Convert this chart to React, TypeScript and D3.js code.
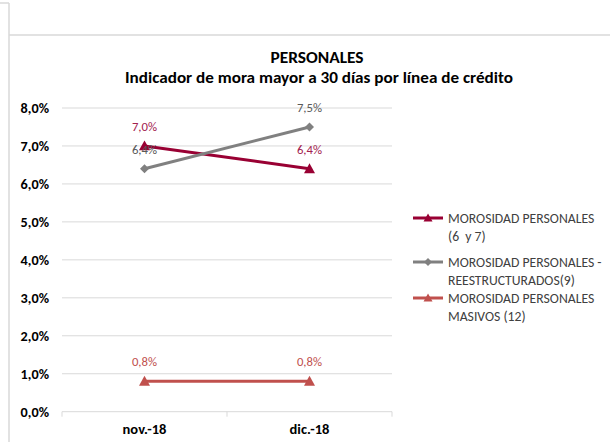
import React from "react";
import * as d3 from "d3";

const categories = ["nov.-18", "dic.-18"];
const seriesNames = [
  ["MOROSIDAD PERSONALES", "(6\u00a0 y 7)"],
  ["MOROSIDAD PERSONALES -", "REESTRUCTURADOS(9)"],
  ["MOROSIDAD PERSONALES", "MASIVOS (12)"],
];
const personales = [0.070, 0.064];
const reestructurados = [0.064, 0.075];
const masivos = [0.008, 0.008];
const yTicks = [0, 0.01, 0.02, 0.03, 0.04, 0.05, 0.06, 0.07, 0.08];
const titleLines = ["PERSONALES", "Indicador de mora mayor a 30 días por línea de crédito"];

const FONT = "Carlito, Calibri, 'Open Sans', sans-serif";

export default function App() {
  const W = 610, H = 442;
  const x = d3.scaleBand<string>().domain(categories).range([62, 392]).padding(0);
  const y = d3.scaleLinear().domain([0, 0.08]).range([411.7, 108]);
  const fmt = (v: number) => (v * 100).toFixed(1).replace(".", ",") + "%";
  const cx = (c: string) => (x(c) ?? 0) + x.bandwidth() / 2;

  const series = [
    { data: personales, color: "#990033", label: "#A3224F", marker: "tri", dy: -15 },
    { data: reestructurados, color: "#808080", label: "#595959", marker: "dia", dy: -15 },
    { data: masivos, color: "#C0504D", label: "#C0504D", marker: "tri", dy: -15 },
  ];
  const line = d3.line<number>().x((_, i) => cx(categories[i])).y((d) => y(d));
  const tri = (px: number, py: number, s = 5.5) =>
    `M${px},${py - s}L${px + s},${py + s * 0.8}L${px - s},${py + s * 0.8}Z`;
  const dia = (px: number, py: number, s = 4.5) =>
    `M${px},${py - s}L${px + s},${py}L${px},${py + s}L${px - s},${py}Z`;

  return (
    <svg width={W} height={H} style={{ position: "absolute", left: 0, top: 0, background: "#fff" }}>
      <rect x={0} y={0} width={W} height={H} fill="#fff" />
      {/* frame */}
      <line x1={0} y1={3} x2={9} y2={3} stroke="#d9d9d9" strokeWidth={1.5} />
      <line x1={9} y1={3} x2={9} y2={H} stroke="#d9d9d9" strokeWidth={1.5} />
      <line x1={9} y1={35} x2={W} y2={35} stroke="#d9d9d9" strokeWidth={1.5} />

      {/* title */}
      <text x={317} y={63} textAnchor="middle" fontFamily={FONT} fontWeight="bold" fontSize={16.5} fill="#000"
        textLength={93} lengthAdjust="spacingAndGlyphs">
        {titleLines[0]}
      </text>
      <text x={319} y={83} textAnchor="middle" fontFamily={FONT} fontWeight="bold" fontSize={16.5} fill="#000"
        textLength={388} lengthAdjust="spacingAndGlyphs">
        {titleLines[1]}
      </text>

      {/* grid + y labels */}
      {yTicks.map((t) => (
        <g key={t}>
          <line x1={62} x2={392} y1={y(t)} y2={y(t)} stroke="#d9d9d9" strokeWidth={1} />
          <text x={49} y={y(t) + 5} textAnchor="end" fontFamily={FONT} fontWeight="bold" fontSize={14.2} fill="#000">
            {fmt(t)}
          </text>
        </g>
      ))}
      {/* x axis ticks */}
      {[62, 227, 392].map((tx) => (
        <line key={tx} x1={tx} x2={tx} y1={y(0)} y2={y(0) + 5} stroke="#d9d9d9" strokeWidth={1} />
      ))}
      {categories.map((c) => (
        <text key={c} x={cx(c)} y={434} textAnchor="middle" fontFamily={FONT} fontWeight="bold" fontSize={14.5} fill="#000">
          {c}
        </text>
      ))}

      {/* series */}
      {series.map((s, si) => (
        <g key={si}>
          <path d={line(s.data) ?? ""} fill="none" stroke={s.color} strokeWidth={3} />
          {s.data.map((v, i) => (
            <path key={i} d={s.marker === "tri" ? tri(cx(categories[i]), y(v)) : dia(cx(categories[i]), y(v))} fill={s.color} />
          ))}
          {s.data.map((v, i) => (
            <text key={"l" + i} x={cx(categories[i])} y={y(v) + s.dy} textAnchor="middle" fontFamily={FONT} fontSize={12.7} fill={s.label}>
              {fmt(v)}
            </text>
          ))}
        </g>
      ))}

      {/* legend */}
      {series.map((s, si) => {
        const ly = [218, 262, 298][si];
        return (
          <g key={"lg" + si}>
            <line x1={413} x2={443} y1={ly} y2={ly} stroke={s.color} strokeWidth={3} />
            <path d={s.marker === "tri" ? tri(428, ly, 4.5) : dia(428, ly, 4)} fill={s.color} />
            <text x={448} y={ly + 5} fontFamily={FONT} fontSize={13.7} fill="#404040">
              {seriesNames[si][0]}
            </text>
            <text x={448} y={ly + 23} fontFamily={FONT} fontSize={13.7} fill="#404040">
              {seriesNames[si][1]}
            </text>
          </g>
        );
      })}
    </svg>
  );
}
